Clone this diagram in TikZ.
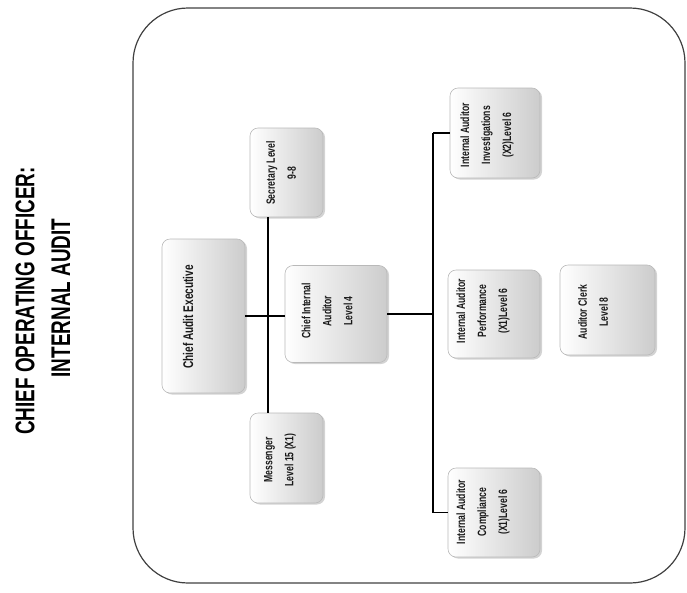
\documentclass[tikz,border=0pt]{standalone}
\usepackage{fontspec}
\setmainfont{Liberation Sans}
\newfontfamily\condfont[FakeStretch=0.72]{Liberation Sans}
\newfontfamily\titlefont[FakeStretch=0.7]{Liberation Sans}
\usetikzlibrary{shadows}
\begin{document}
\begin{tikzpicture}[x=1pt,y=-1pt,
  box/.style={rectangle, rounded corners=8pt, draw=gray!55, line width=0.6pt,
    left color=white, right color=gray!40,
    drop shadow={shadow xshift=2pt, shadow yshift=-1.5pt, opacity=0.35, fill=gray},
    inner sep=0pt},
  lbl/.style={rotate=90, align=center, inner sep=0pt, text=black!90,
    font=\condfont\bfseries\fontsize{12}{21}\selectfont},
  wire/.style={line width=1.4pt, draw=black},
  ttl/.style={rotate=90, inner sep=0pt, font=\titlefont\bfseries\fontsize{27}{30}\selectfont},
  frame/.style={draw=black!75, line width=1.2pt, rounded corners=55pt}]
\useasboundingbox (0,0) rectangle (687,592);
\draw[frame] (133,8) rectangle (685,583);

% title
\node[ttl] (t1) at (25,301) {CHIEF OPERATING OFFICER:};
\node[ttl] (t2) at (61,298) {INTERNAL AUDIT};

% boxes
\node[box, minimum width=83pt, minimum height=154pt] (cae) at (203.5,316) {};
\node[box, minimum width=73pt, minimum height=89pt] (sec) at (286.5,172.5) {};
\node[box, minimum width=73pt, minimum height=90pt] (mes) at (286.5,458) {};
\node[box, minimum width=102pt, minimum height=97pt] (cia) at (336,314) {};
\node[box, minimum width=90pt, minimum height=90pt] (inv) at (495,133) {};
\node[box, minimum width=92pt, minimum height=88pt] (per) at (494,314) {};
\node[box, minimum width=92pt, minimum height=89pt] (com) at (494,512.5) {};
\node[box, minimum width=95pt, minimum height=90pt] (clk) at (607.5,310) {};

% labels
\node[lbl, font=\condfont\bfseries\fontsize{14}{21}\selectfont] (caet) at (188,317) {Chief Audit Executive};
\node[lbl] (sect) at (281,173) {Secretary Level\\9-8};
\node[lbl] (mest) at (280,460) {Messenger\\Level 15 (X1)};
\node[lbl] (ciat) at (327,311) {Chief Internal\\Auditor\\Level 4};
\node[lbl] (invt) at (487,135) {Internal Auditor\\Investigations\\(X2)Level 6};
\node[lbl] (pert) at (483,311) {Internal Auditor\\Performance\\(X1)Level 6};
\node[lbl] (comt) at (483,512) {Internal Auditor\\Compliance\\(X1)Level 6};
\node[lbl] (clkt) at (593,312) {Auditor Clerk\\Level 8};

% connectors
\coordinate (j1) at (268,316);
\coordinate (j2) at (433,316);
\draw[wire] (cae.east) -- (cae.east -| cia.west);
\draw[wire] (j1 |- sec.south) -- (j1 |- mes.north);
\draw[wire] (cia.east) -- (cia.east -| j2);
\draw[wire] (j2 |- inv.west) -- (j2 |- com.west);
\draw[wire] (j2 |- inv.west) -- (inv.west);
\draw[wire] (j2 |- com.west) -- (com.west);
\end{tikzpicture}
\end{document}
